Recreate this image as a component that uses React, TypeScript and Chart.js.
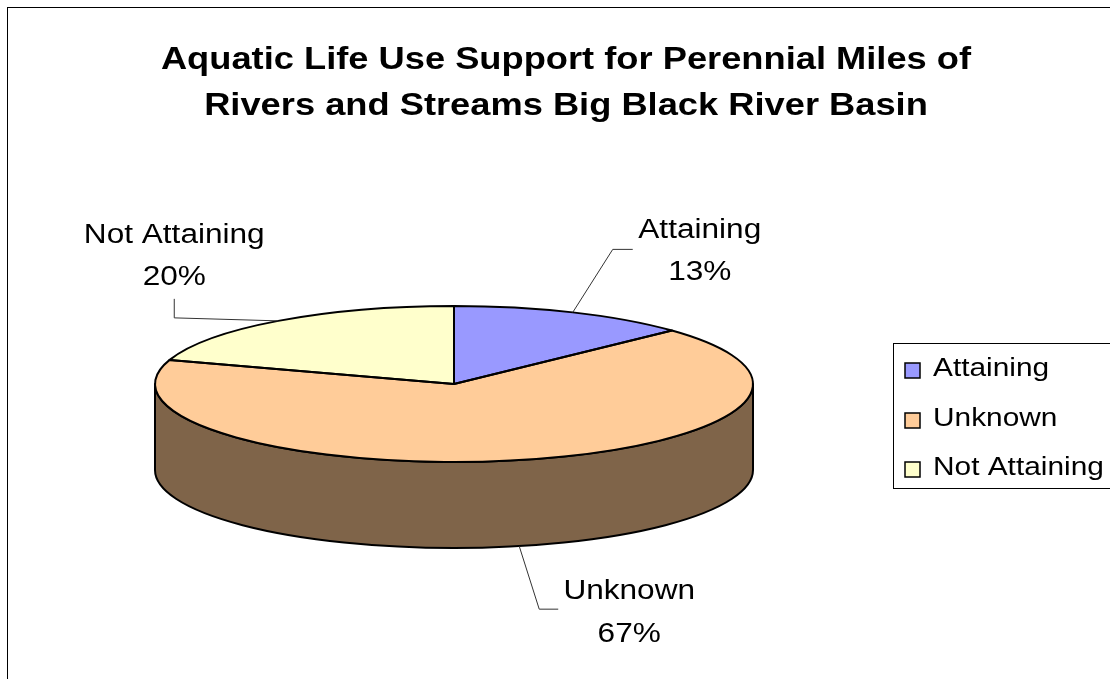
import React, { useEffect, useRef } from "react";
import { Chart, registerables } from "chart.js";

Chart.register(...registerables);

// ---- data ----
const categories = ["Attaining", "Unknown", "Not Attaining"];
const percentValues = [13, 67, 20];
const titleLines = [
  "Aquatic Life Use Support for Perennial Miles of",
  "Rivers and Streams Big Black River Basin",
];

// ---- styles ----
const sliceColors = ["#9999FF", "#FFCC99", "#FFFFCC"];
const sideColors = ["#4D4D80", "#7F6449", "#808066"];
const FONT = '"Liberation Sans", Arial, Helvetica, sans-serif';
const TEXT_SX = 1.17;
const TILT = 0.261;
const DEPTH = 86;
const CANVAS_W = 1128;
const CANVAS_H = 718;

// label layout relative to each slice's anchor point
const labelLayout = [
  { elbow: [40, -63], end: [60, -63], tx: 127, ty: [-74, -32] },
  { elbow: [20, 63], end: [39, 63], tx: 110, ty: [53, 96] },
  { elbow: [-104, -3], end: [-104, -22], tx: -104, ty: [-78, -36] },
];

function drawText(
  ctx: CanvasRenderingContext2D,
  text: string,
  x: number,
  y: number,
  align: CanvasTextAlign,
  font: string
) {
  ctx.save();
  ctx.translate(x, y);
  ctx.scale(TEXT_SX, 1);
  ctx.font = font;
  ctx.fillStyle = "#000";
  ctx.textAlign = align;
  ctx.textBaseline = "alphabetic";
  ctx.fillText(text, 0, 0);
  ctx.restore();
}

const pie3dPlugin = {
  id: "pie3d",
  beforeDatasetsDraw(chart: any) {
    const ctx: CanvasRenderingContext2D = chart.ctx;
    const meta = chart.getDatasetMeta(0);
    const arcs = meta.data;
    if (!arcs.length) return;
    const { x, y, outerRadius: R } = arcs[0].getProps(["x", "y", "outerRadius"], true);
    const ry = R * TILT;
    ctx.save();
    // side walls (front half only)
    arcs.forEach((arc: any, i: number) => {
      const { startAngle, endAngle } = arc.getProps(["startAngle", "endAngle"], true);
      const a0 = Math.max(startAngle, 0);
      const a1 = Math.min(endAngle, Math.PI);
      if (a1 <= a0) return;
      ctx.beginPath();
      ctx.ellipse(x, y, R, ry, 0, a0, a1);
      ctx.lineTo(x + R * Math.cos(a1), y + ry * Math.sin(a1) + DEPTH);
      ctx.ellipse(x, y + DEPTH, R, ry, 0, a1, a0, true);
      ctx.closePath();
      ctx.fillStyle = sideColors[i];
      ctx.fill();
      ctx.lineWidth = 2;
      ctx.lineJoin = "round";
      ctx.strokeStyle = "#000";
      ctx.stroke();
    });
    // squash the pie top
    ctx.translate(x, y);
    ctx.scale(1, TILT);
    ctx.translate(-x, -y);
  },
  afterDatasetsDraw(chart: any) {
    const ctx: CanvasRenderingContext2D = chart.ctx;
    ctx.restore();
    const meta = chart.getDatasetMeta(0);
    const arcs = meta.data;
    if (!arcs.length) return;
    const { x, y, outerRadius: R } = arcs[0].getProps(["x", "y", "outerRadius"], true);
    const ry = R * TILT;
    ctx.save();
    ctx.lineWidth = 2;
    ctx.lineJoin = "round";
    ctx.strokeStyle = "#000";
    arcs.forEach((arc: any) => {
      const { startAngle, endAngle } = arc.getProps(["startAngle", "endAngle"], true);
      ctx.beginPath();
      ctx.moveTo(x, y);
      ctx.lineTo(x + R * Math.cos(startAngle), y + ry * Math.sin(startAngle));
      ctx.ellipse(x, y, R, ry, 0, startAngle, endAngle);
      ctx.closePath();
      ctx.stroke();
    });
    ctx.restore();
  },
  afterDraw(chart: any) {
    const ctx: CanvasRenderingContext2D = chart.ctx;
    const meta = chart.getDatasetMeta(0);
    const arcs = meta.data;
    const values: number[] = chart.data.datasets[0].data;
    const labels: string[] = chart.data.labels;
    const total = values.reduce((a, b) => a + b, 0);
    const { x, y, outerRadius: R } = arcs[0].getProps(["x", "y", "outerRadius"], true);
    const ry = R * TILT;

    // title
    titleLines.forEach((line, i) => {
      drawText(ctx, line, 558, 61 + i * 46, "center", `bold 31px ${FONT}`);
    });

    // data labels with leader lines
    const labelFont = `27px ${FONT}`;
    arcs.forEach((arc: any, i: number) => {
      const { startAngle, endAngle } = arc.getProps(["startAngle", "endAngle"], true);
      const m = (startAngle + endAngle) / 2;
      const ax = x + R * Math.cos(m);
      const ay = y + ry * Math.sin(m) + (Math.sin(m) > 0 ? DEPTH : 0);
      const L = labelLayout[i];
      ctx.save();
      ctx.strokeStyle = "#333";
      ctx.lineWidth = 1;
      ctx.beginPath();
      ctx.moveTo(ax, ay);
      ctx.lineTo(ax + L.elbow[0], ay + L.elbow[1]);
      ctx.lineTo(ax + L.end[0], ay + L.end[1]);
      ctx.stroke();
      ctx.restore();
      const pct = Math.round((values[i] / total) * 100) + "%";
      drawText(ctx, labels[i], ax + L.tx, ay + L.ty[0], "center", labelFont);
      drawText(ctx, pct, ax + L.tx, ay + L.ty[1], "center", labelFont);
    });

    // legend
    const legendFont = `25.5px ${FONT}`;
    const lx = 885;
    const ly = 335;
    ctx.save();
    ctx.fillStyle = "#fff";
    ctx.fillRect(lx, ly, 240, 145);
    ctx.strokeStyle = "#000";
    ctx.lineWidth = 1;
    ctx.strokeRect(lx + 0.5, ly + 0.5, 240, 145);
    ctx.restore();
    labels.forEach((lab, i) => {
      const sy = 355 + i * 49.5;
      ctx.save();
      ctx.fillStyle = sliceColors[i];
      ctx.fillRect(897, Math.round(sy), 15, 15);
      ctx.strokeStyle = "#000";
      ctx.lineWidth = 1.5;
      ctx.strokeRect(897, Math.round(sy), 15, 15);
      ctx.restore();
      drawText(ctx, lab, 925, sy + 13, "left", legendFont);
    });
  },
};

export default function App() {
  const canvasRef = useRef<HTMLCanvasElement | null>(null);

  useEffect(() => {
    const canvas = canvasRef.current;
    if (!canvas) return;
    const chart = new Chart(canvas, {
      type: "pie",
      data: {
        labels: categories,
        datasets: [
          {
            data: percentValues,
            backgroundColor: sliceColors,
            borderWidth: 0,
            radius: 299,
            clip: false,
          } as any,
        ],
      },
      options: {
        responsive: false,
        animation: false,
        devicePixelRatio: 1,
        events: [],
        layout: { padding: { left: 0, right: 236, top: 34, bottom: 0 } },
        plugins: {
          legend: { display: false },
          title: { display: false },
          tooltip: { enabled: false },
        },
      },
      plugins: [pie3dPlugin],
    });
    return () => chart.destroy();
  }, []);

  return (
    <div
      style={{
        position: "absolute",
        left: 7,
        top: 7,
        width: CANVAS_W + 2,
        height: CANVAS_H + 2,
        border: "1px solid #000",
        boxSizing: "border-box",
        background: "#fff",
      }}
    >
      <canvas
        ref={canvasRef}
        width={CANVAS_W}
        height={CANVAS_H}
        style={{ display: "block", width: CANVAS_W, height: CANVAS_H }}
      />
    </div>
  );
}
